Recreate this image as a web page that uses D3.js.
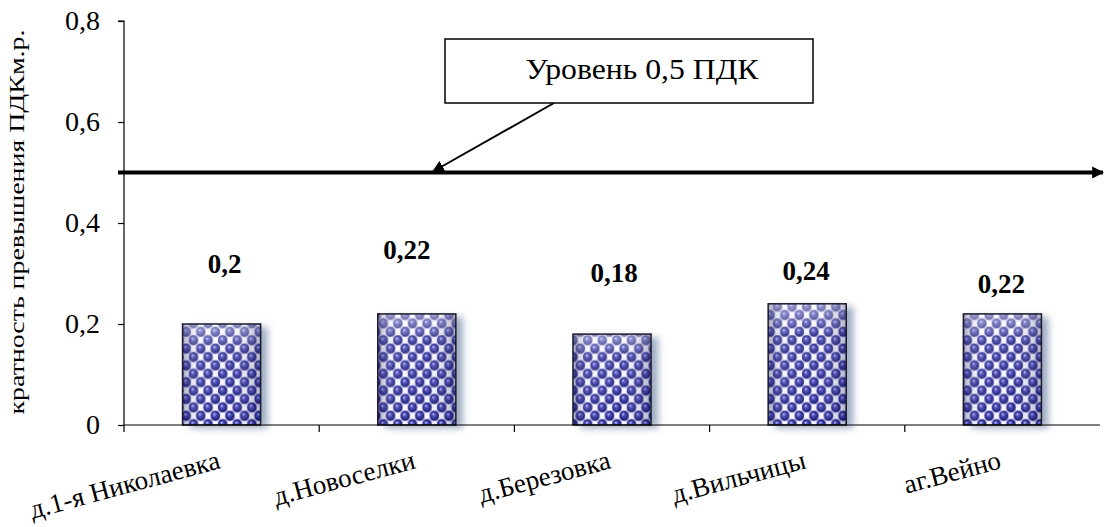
<!DOCTYPE html>
<html>
<head>
<meta charset="utf-8">
<script src="https://cdn.jsdelivr.net/npm/d3@7"></script>
<style>
  html, body { margin: 0; padding: 0; background: #fff; }
  svg { display: block; }
  svg text { font-family: "Liberation Serif", Tinos, "DejaVu Serif", "Noto Serif", FreeSerif, serif; fill: #000; }
</style>
</head>
<body>
<svg id="chart" width="1104" height="527"></svg>
<script>
// Settlements and their concentration ratios (multiples of the max one-time MPC)
const settlements = ["д.1-я Николаевка", "д.Новоселки", "д.Березовка", "д.Вильчицы", "аг.Вейно"];
const ratios = [0.2, 0.22, 0.18, 0.24, 0.22];
const yTicks = [0, 0.2, 0.4, 0.6, 0.8];
const limitLevel = 0.5;
const limitCaption = "Уровень 0,5 ПДК";
const yTitle = "кратность превышения ПДКм.р.";

// Hand-placed offsets for the value labels (dx, dy from the bar top)
const labelShift = [[3, -51], [-10, -55], [2, -52], [-1, -24], [-1, -21]];

const fmt = v => String(v).replace(".", ",");

const svg = d3.select("#chart");
const plot = { left: 124, right: 1100, top: 21, bottom: 425 };

const x = d3.scaleBand().domain(settlements).range([plot.left, plot.right]).paddingInner(0.6).paddingOuter(0.3);
const xEdge = d3.scaleBand().domain(settlements).range([plot.left, plot.right]);
const y = d3.scaleLinear().domain([0, 0.8]).range([plot.bottom, plot.top]);

const defs = svg.append("defs");

// ball gradient for the bar texture
const ball = defs.append("radialGradient").attr("id", "ball")
  .attr("cx", "50%").attr("cy", "50%").attr("r", "55%").attr("fx", "38%").attr("fy", "32%");
ball.append("stop").attr("offset", "0%").attr("stop-color", "#d8d8ff");
ball.append("stop").attr("offset", "28%").attr("stop-color", "#4a4abd");
ball.append("stop").attr("offset", "65%").attr("stop-color", "#1c1c8a");
ball.append("stop").attr("offset", "100%").attr("stop-color", "#12125a");

// checkerboard of balls and pale squares
const cw = 7.3, chh = 8.4;
const pat = defs.append("pattern").attr("id", "dots")
  .attr("patternUnits", "userSpaceOnUse").attr("width", cw * 2).attr("height", chh * 2);
pat.append("rect").attr("width", cw * 2).attr("height", chh * 2).attr("fill", "#a9a9e0");
pat.append("rect").attr("x", cw + 1.2).attr("y", 1.2).attr("width", cw - 2.4).attr("height", chh - 2.4).attr("fill", "#f4f4ff");
pat.append("rect").attr("x", 1.2).attr("y", chh + 1.2).attr("width", cw - 2.4).attr("height", chh - 2.4).attr("fill", "#f4f4ff");
[[cw / 2, chh / 2], [cw * 1.5, chh * 1.5], [-cw / 2, chh * 1.5], [cw * 2.5, chh / 2], [cw * 1.5, -chh / 2], [cw / 2, chh * 2.5]]
  .forEach(([cx, cy]) => {
    pat.append("ellipse").attr("cx", cx).attr("cy", cy).attr("rx", 4.6).attr("ry", 4.9).attr("fill", "url(#ball)");
  });

// side shading across each bar
const shade = defs.append("linearGradient").attr("id", "shade").attr("x1", 0).attr("x2", 1).attr("y1", 0).attr("y2", 0);
shade.append("stop").attr("offset", "0%").attr("stop-color", "#10104a").attr("stop-opacity", 0.35);
shade.append("stop").attr("offset", "20%").attr("stop-color", "#ffffff").attr("stop-opacity", 0.1);
shade.append("stop").attr("offset", "65%").attr("stop-color", "#ffffff").attr("stop-opacity", 0.05);
shade.append("stop").attr("offset", "100%").attr("stop-color", "#10104a").attr("stop-opacity", 0.3);

// light wash toward the top of each bar
const wash = defs.append("linearGradient").attr("id", "wash").attr("x1", 0).attr("x2", 0).attr("y1", 0).attr("y2", 1);
wash.append("stop").attr("offset", "0%").attr("stop-color", "#ffffff").attr("stop-opacity", 0.45);
wash.append("stop").attr("offset", "25%").attr("stop-color", "#ffffff").attr("stop-opacity", 0.1);
wash.append("stop").attr("offset", "100%").attr("stop-color", "#ffffff").attr("stop-opacity", 0);

// soft shadow to the right of each bar
const sh = defs.append("filter").attr("id", "shadow").attr("x", "-20%").attr("y", "-20%").attr("width", "160%").attr("height", "140%");
sh.append("feGaussianBlur").attr("in", "SourceAlpha").attr("stdDeviation", 3.5).attr("result", "b");
sh.append("feOffset").attr("in", "b").attr("dx", 7).attr("dy", 3).attr("result", "o");
sh.append("feFlood").attr("flood-color", "#7c8fae").attr("flood-opacity", 0.75);
sh.append("feComposite").attr("in2", "o").attr("operator", "in").attr("result", "s");
const mg = sh.append("feMerge");
mg.append("feMergeNode").attr("in", "s");
mg.append("feMergeNode").attr("in", "SourceGraphic");

// arrowheads
defs.append("marker").attr("id", "tip").attr("viewBox", "0 0 10 10").attr("refX", 9).attr("refY", 5)
  .attr("markerWidth", 3).attr("markerHeight", 3.2).attr("markerUnits", "strokeWidth").attr("orient", "auto")
  .append("path").attr("d", "M0,0L10,5L0,10z").attr("fill", "#000");
defs.append("marker").attr("id", "tipSmall").attr("viewBox", "0 0 10 10").attr("refX", 9).attr("refY", 5)
  .attr("markerWidth", 6).attr("markerHeight", 6).attr("markerUnits", "strokeWidth").attr("orient", "auto")
  .append("path").attr("d", "M0,0L10,5L0,10z").attr("fill", "#000");

// bars
const barAttrs = sel => sel
  .attr("x", (d, i) => x(settlements[i]))
  .attr("y", d => y(d))
  .attr("width", x.bandwidth())
  .attr("height", d => y(0) - y(d));
const bars = svg.append("g");
bars.selectAll("rect.base").data(ratios).join("rect").attr("class", "base")
  .call(barAttrs).attr("fill", "url(#dots)").attr("filter", "url(#shadow)");
bars.selectAll("rect.wash").data(ratios).join("rect").attr("class", "wash")
  .call(barAttrs).attr("fill", "url(#wash)");
bars.selectAll("rect.lit").data(ratios).join("rect").attr("class", "lit")
  .call(barAttrs).attr("fill", "url(#shade)")
  .attr("stroke", "#1b1b2a").attr("stroke-width", 1.5);

// y axis
const yAxis = svg.append("g").attr("transform", `translate(${plot.left},0)`)
  .call(d3.axisLeft(y).tickValues(yTicks).tickSize(6).tickPadding(18).tickFormat(fmt));
yAxis.attr("font-family", null).attr("font-size", 28);
yAxis.selectAll("path, line").attr("stroke", "#000").attr("stroke-width", 1.2);
yAxis.select(".domain").attr("d", `M-6,${plot.top}H0V${plot.bottom}`);
yAxis.selectAll("text").attr("fill", "#000");

// x axis line and category dividers
const xg = svg.append("g");
xg.append("line").attr("x1", plot.left).attr("x2", plot.right).attr("y1", y(0)).attr("y2", y(0))
  .attr("stroke", "#000").attr("stroke-width", 1.2);
xg.selectAll("line.tick").data(settlements).join("line").attr("class", "tick")
  .attr("x1", d => xEdge(d)).attr("x2", d => xEdge(d))
  .attr("y1", y(0)).attr("y2", y(0) + 7)
  .attr("stroke", "#000").attr("stroke-width", 1.2);
xg.selectAll("text").data(settlements).join("text")
  .attr("transform", d => `translate(${xEdge(d) + xEdge.bandwidth() / 2},468) rotate(-15)`)
  .attr("text-anchor", "end")
  .attr("font-size", 27)
  .text(d => d);

// y axis title
svg.append("text")
  .attr("transform", `translate(24,${(plot.top + plot.bottom) / 2 - 1}) rotate(-90)`)
  .attr("text-anchor", "middle")
  .attr("font-size", 22)
  .attr("textLength", 385).attr("lengthAdjust", "spacingAndGlyphs")
  .text(yTitle);

// value labels
svg.append("g").selectAll("text").data(ratios).join("text")
  .attr("x", (d, i) => x(settlements[i]) + x.bandwidth() / 2 + labelShift[i][0])
  .attr("y", (d, i) => y(d) + labelShift[i][1])
  .attr("text-anchor", "middle")
  .attr("font-size", 27).attr("font-weight", "bold")
  .text(d => fmt(d));

// 0.5 MPC level line
svg.append("line")
  .attr("x1", plot.left - 6).attr("x2", plot.right + 3)
  .attr("y1", y(limitLevel)).attr("y2", y(limitLevel))
  .attr("stroke", "#000").attr("stroke-width", 4)
  .attr("marker-end", "url(#tip)");

// callout box with a pointer to the level line
const box = { x0: 445, x1: 813, y0: 39, y1: 103 };
svg.append("line")
  .attr("x1", 554).attr("y1", box.y1)
  .attr("x2", 433).attr("y2", y(limitLevel) - 1)
  .attr("stroke", "#000").attr("stroke-width", 2)
  .attr("marker-end", "url(#tipSmall)");
svg.append("rect")
  .attr("x", box.x0).attr("y", box.y0).attr("width", box.x1 - box.x0).attr("height", box.y1 - box.y0)
  .attr("fill", "#fff").attr("stroke", "#000").attr("stroke-width", 1.5);
svg.append("text")
  .attr("x", 642).attr("y", 79)
  .attr("text-anchor", "middle").attr("font-size", 30)
  .attr("textLength", 233).attr("lengthAdjust", "spacingAndGlyphs")
  .text(limitCaption);
</script>
</body>
</html>
